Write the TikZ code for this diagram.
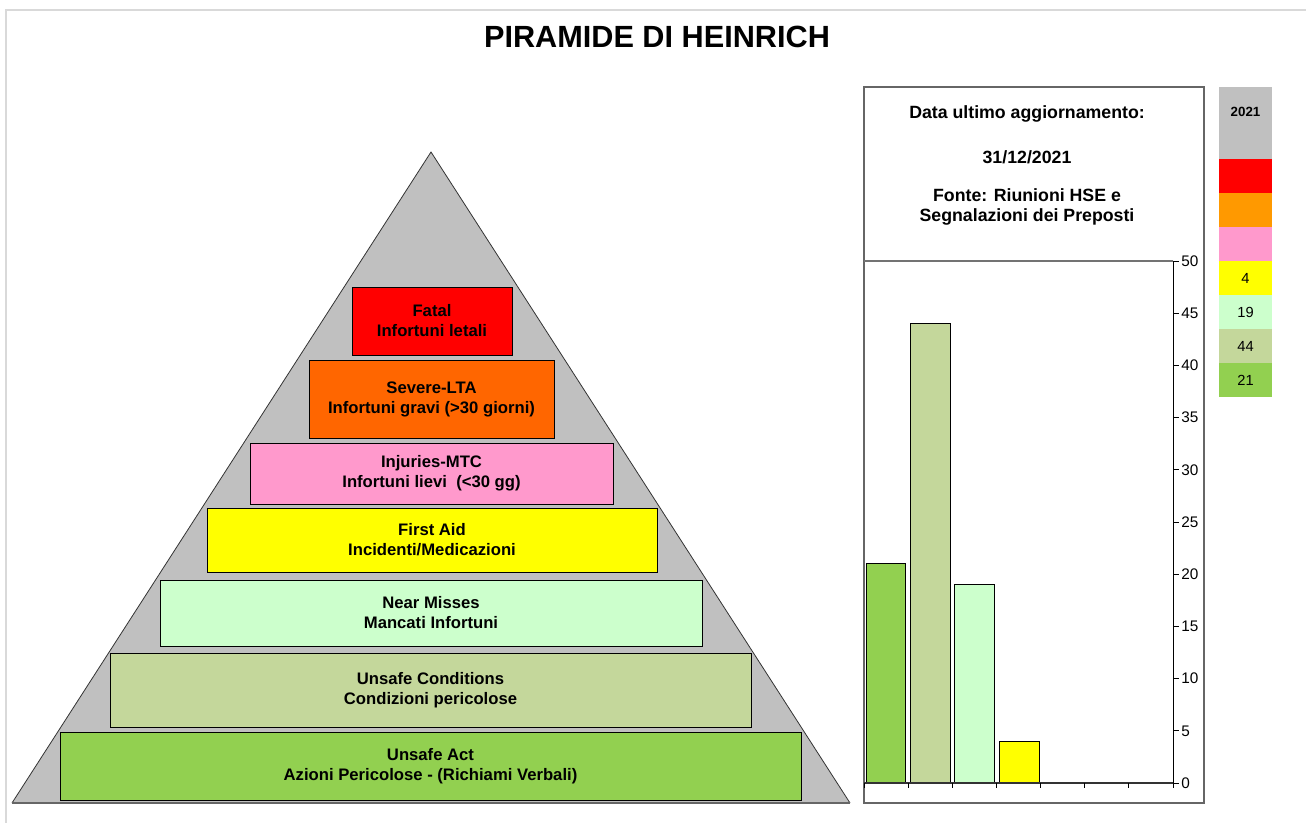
\documentclass[tikz,border=0pt]{standalone}
\usepackage{fontspec}
\setmainfont{Liberation Sans}
\usepackage{xcolor}
\definecolor{fatalred}{HTML}{FF0000}
\definecolor{severeorange}{HTML}{FF6600}
\definecolor{legendorange}{HTML}{FF9900}
\definecolor{injpink}{HTML}{FF99CC}
\definecolor{aidyellow}{HTML}{FFFF00}
\definecolor{nearmint}{HTML}{CCFFCC}
\definecolor{condtan}{HTML}{C4D79B}
\definecolor{actgreen}{HTML}{92D050}
\definecolor{pyrgray}{HTML}{C0C0C0}
\definecolor{framegray}{HTML}{D9D9D9}

\begin{document}
\begin{tikzpicture}[x=0.75pt,y=-0.75pt,
    layer/.style={draw=black,line width=0.6pt,align=center,inner sep=0pt,
      font=\fontsize{12.5}{15}\selectfont\bfseries},
    cell/.style={minimum width=39.75pt,minimum height=25.5pt,inner sep=0pt,
      font=\fontsize{11}{13}\selectfont},
    bar/.style={draw=black,line width=0.6pt}]
        \useasboundingbox (0,0) rectangle (1306,823);
        \draw[framegray,line width=1.5pt] (6,823) -- (6,10) -- (1306,10);
        \node(title) at (657,37) {\fontsize{23}{27}\selectfont\bfseries PIRAMIDE DI HEINRICH};
        \coordinate(top) at (431,152);
        \coordinate(bl) at (12,803);
        \coordinate(br) at (850,803);
        \fill[pyrgray](top)--(br)--(bl)--cycle;
        \draw[black!80,line width=0.6pt](bl)--(top)--(br);
        \draw[black!60,line width=1.2pt](bl)--(br);
        \node[layer,fill=fatalred,minimum width=120pt,minimum height=51pt](fatal) at (432,321) {Fatal\\Infortuni letali};
        \node[layer,fill=severeorange,minimum width=183.75pt,minimum height=58.5pt](severe) at (431.5,399) {Severe-LTA\\Infortuni gravi (>30 giorni)};
        \node[layer,fill=injpink,minimum width=272.25pt,minimum height=45.75pt](injuries) at (431.5,473.5) {Injuries-MTC\\Infortuni lievi \ (<30 gg)};
        \node[layer,fill=aidyellow,minimum width=337.5pt,minimum height=48pt](aid) at (432,540) {First Aid\\Incidenti/Medicazioni};
        \node[layer,fill=nearmint,minimum width=406.5pt,minimum height=49.5pt](near) at (431,613) {Near Misses\\Mancati Infortuni};
        \node[layer,fill=condtan,minimum width=480.75pt,minimum height=55.5pt](cond) at (430.5,690) {Unsafe Conditions\\Condizioni pericolose};
        \node[layer,fill=actgreen,minimum width=555.75pt,minimum height=51pt](act) at (430.5,766) {Unsafe Act\\Azioni Pericolose - (Richiami Verbali)};
        \draw[black!60,line width=0.8pt](864,87) rectangle (1204,803);
        \node[align=center,font=\fontsize{13.3}{15}\selectfont\bfseries](date) at (1027,114) {Data ultimo aggiornamento:};
        \node[font=\fontsize{13.3}{15}\selectfont\bfseries](day) at (1027,157) {31/12/2021};
        \node[align=center,font=\fontsize{13.3}{15}\selectfont\bfseries](source) at (1027,207) {Fonte: Riunioni HSE e\\Segnalazioni dei Preposti};
        \draw[black!55,line width=0.8pt](864,261)--(1173,261);
        \fill[actgreen,bar](866,783) rectangle (905,563.8);
        \fill[condtan,bar](910,783) rectangle (950,323.6);
        \fill[nearmint,bar](954,783) rectangle (994,584.6);
        \fill[aidyellow,bar](999,783) rectangle (1039,741.2);
        \draw[black,line width=0.6pt](1173,261)--(1173,783);
        \draw[black!80,line width=0.8pt](864,783)--(1173,783);
        \foreach \v in {0,5,...,50}{
            \draw[black,line width=0.6pt](1173,783-\v*10.44)--(1179,783-\v*10.44);
            \node[anchor=west,inner sep=0pt,font=\fontsize{11.5}{13}\selectfont](t\v) at (1181,783-\v*10.44) {\v};
        }
        \foreach \i in {0,...,7}{
            \draw[black,line width=0.6pt](864+\i*44.14,783)--(864+\i*44.14,788);
        }
        \node[cell,fill=pyrgray,minimum height=54pt](y2021) at (1245.5,123) {};
        \node[below=15pt,inner sep=0pt,font=\fontsize{10}{12}\selectfont\bfseries](year) at (y2021.north) {2021};
        \node[cell,fill=fatalred](lfatal) at (1245.5,176) {};
        \node[cell,fill=legendorange](lsevere) at (1245.5,210) {};
        \node[cell,fill=injpink](linj) at (1245.5,244) {};
        \node[cell,fill=aidyellow](laid) at (1245.5,278) {4};
        \node[cell,fill=nearmint](lnear) at (1245.5,312) {19};
        \node[cell,fill=condtan](lcond) at (1245.5,346) {44};
        \node[cell,fill=actgreen](lact) at (1245.5,380) {21};
        \end{tikzpicture}
\end{document}
